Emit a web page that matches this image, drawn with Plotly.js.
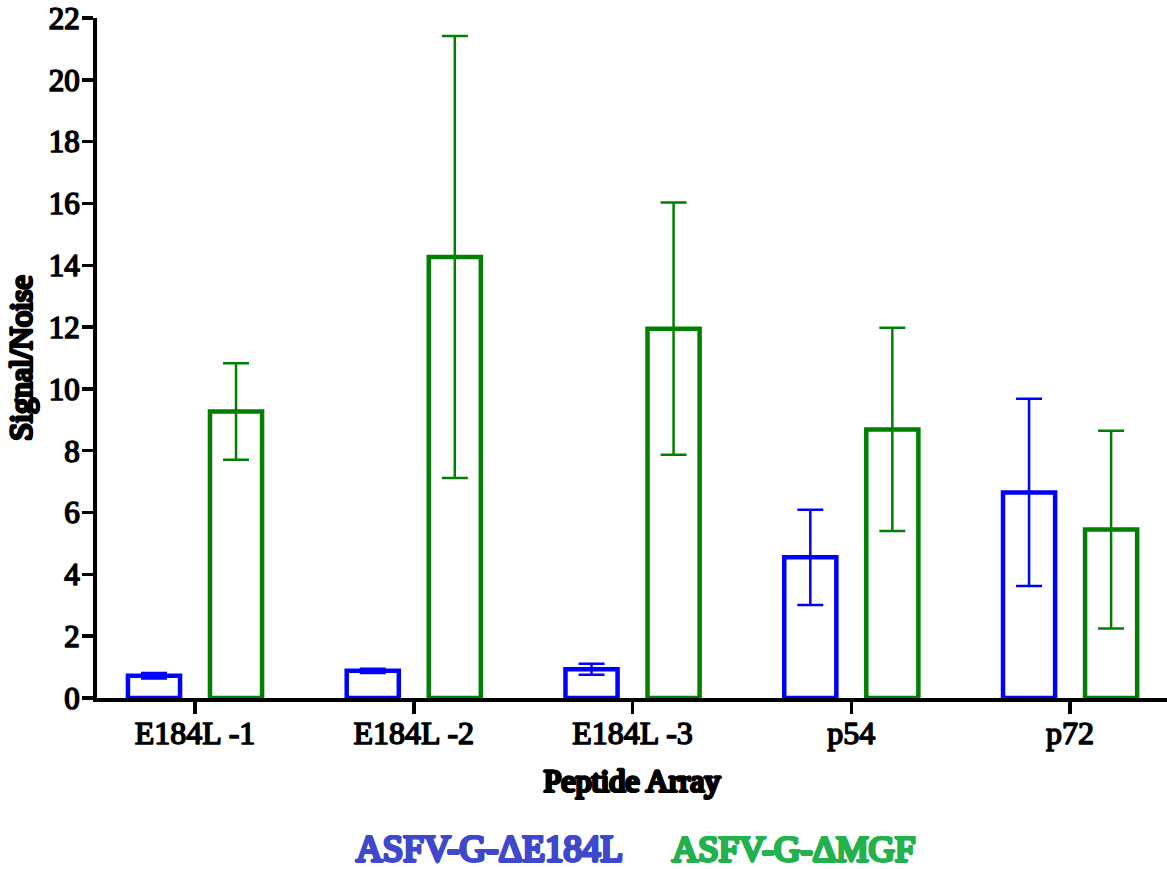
<!DOCTYPE html>
<html>
<head>
<meta charset="utf-8">
<script src="https://cdn.plot.ly/plotly-3.0.1.min.js"></script>
<style>
html,body{margin:0;padding:0;background:#fff;}
#chart{width:1167px;height:869px;}
/* Liberation Serif bold face is unavailable: emulate bold with a stroke of the same colour */
#chart svg text, #chart svg text tspan{stroke:#000 !important;stroke-width:1.6px !important;stroke-linejoin:round;}
#chart svg g.annotation[data-index="0"] text, #chart svg g.annotation[data-index="0"] text tspan{stroke:rgb(63,72,204) !important;stroke-width:1.8px !important;}
#chart svg g.annotation[data-index="1"] text, #chart svg g.annotation[data-index="1"] text tspan{stroke:rgb(34,177,76) !important;stroke-width:1.8px !important;}
</style>
</head>
<body>
<div id="chart"></div>
<script>
// ---- data ----
const categories = ["E184L -1", "E184L -2", "E184L -3", "p54", "p72"];
const seriesNames = ["ASFV-G-\u0394E184L", "ASFV-G-\u0394MGF"];
const e184lMean = [0.72, 0.88, 0.93, 4.55, 6.65];
const e184lErr  = [0.09, 0.07, 0.18, 1.54, 3.03];
const mgfMean   = [9.27, 14.27, 11.95, 8.69, 5.45];
const mgfErr    = [1.56, 7.15, 4.08, 3.29, 3.20];
const yTicks = [0, 2, 4, 6, 8, 10, 12, 14, 16, 18, 20, 22];

const FONT = "Liberation Serif";
const BLUE = "rgb(0,0,255)";
const GREEN = "rgb(0,128,0)";
const LEGEND_COLORS = ["rgb(63,72,204)", "rgb(34,177,76)"];

function boldShadow(c) {
  return "0.8px 0 0 " + c + ", -0.8px 0 0 " + c + ", 0 0.5px 0 " + c + ", 0 -0.5px 0 " + c;
}

const traces = [
  {
    type: "bar", x: categories, y: e184lMean, name: seriesNames[0],
    marker: {color: "rgba(255,255,255,0)", line: {color: BLUE, width: 4.5}},
    error_y: {type: "data", array: e184lErr, visible: true, color: BLUE, thickness: 2.5, width: 13},
    hoverinfo: "skip"
  },
  {
    type: "bar", x: categories, y: mgfMean, name: seriesNames[1],
    marker: {color: "rgba(255,255,255,0)", line: {color: GREEN, width: 4.5}},
    error_y: {type: "data", array: mgfErr, visible: true, color: GREEN, thickness: 2.5, width: 13},
    hoverinfo: "skip"
  }
];

const layout = {
  width: 1167, height: 869,
  margin: {l: 97, r: 0, t: 18, b: 171, pad: 0},
  paper_bgcolor: "#fff", plot_bgcolor: "#fff",
  showlegend: false,
  barmode: "group", bargap: 0.25, bargroupgap: 0.365,
  font: {family: FONT, color: "#000", size: 31},
  xaxis: {
    type: "category", range: [-0.448, 4.443],
    showgrid: false, zeroline: false,
    showline: true, linecolor: "#000", linewidth: 4,
    ticks: "outside", ticklen: 12, tickwidth: 3.5, tickcolor: "#000",
    ticklabelstandoff: -8,
    tickfont: {family: FONT, size: 32, color: "#000"},
    title: {text: "Peptide Array", font: {family: FONT, size: 32, color: "#000", shadow: boldShadow("#000")}, standoff: 20},
    automargin: false, fixedrange: true
  },
  yaxis: {
    range: [0, 22], tickmode: "array", tickvals: yTicks, ticktext: yTicks.map(String),
    showgrid: false, zeroline: false,
    showline: true, linecolor: "#000", linewidth: 4,
    ticks: "outside", ticklen: 11, tickwidth: 3.5, tickcolor: "#000",
    ticklabelstandoff: -4,
    tickfont: {family: FONT, size: 31, color: "#000"},
    title: {text: "Signal/Noise", font: {family: FONT, size: 32, color: "#000", shadow: boldShadow("#000")}, standoff: 8},
    automargin: false, fixedrange: true
  },
  annotations: [
    {xref: "paper", yref: "paper", x: 0.4935, y: 0, yshift: -150, xanchor: "right", yanchor: "middle",
     text: seriesNames[0], showarrow: false,
     font: {family: FONT, size: 37, color: LEGEND_COLORS[0], shadow: boldShadow(LEGEND_COLORS[0])}},
    {xref: "paper", yref: "paper", x: 0.5355, y: 0, yshift: -150, xanchor: "left", yanchor: "middle",
     text: seriesNames[1], showarrow: false,
     font: {family: FONT, size: 36.5, color: LEGEND_COLORS[1], shadow: boldShadow(LEGEND_COLORS[1])}}
  ]
};

Plotly.newPlot("chart", traces, layout, {displayModeBar: false, staticPlot: true});
</script>
</body>
</html>
